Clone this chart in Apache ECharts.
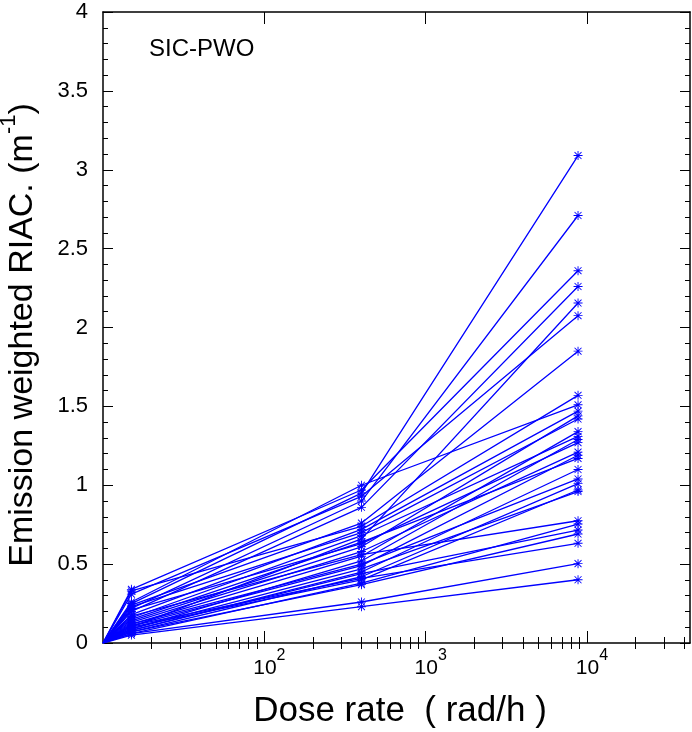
<!DOCTYPE html>
<html><head><meta charset="utf-8">
<script src="https://cdn.jsdelivr.net/npm/echarts@6/dist/echarts.min.js"></script>
<style>html,body{margin:0;padding:0;background:#fff}#c{width:692px;height:732px}</style>
</head><body><div id="c"></div>
<script>
// Dose rates (rad/h) at which RIAC was measured (first point = start, zero RIAC)
const doseRates = [10, 15, 400, 8800];
const riacStart = [0,0,0,0,0,0,0,0,0,0,0,0,0,0,0,0,0,0,0,0,0,0,0,0,0,0,0,0,0,0,0];
const riac15 = [0.25,0.22,0.34,0.20,0.31,0.26,0.10,0.24,0.33,0.18,0.14,0.23,0.12,0.16,0.09,0.21,0.13,0.11,0.15,0.08,0.12,0.07,0.10,0.09,0.17,0.06,0.08,0.07,0.11,0.06,0.05];
const riac400 = [0.95,0.90,0.97,0.86,0.93,1.00,0.66,0.76,0.74,0.72,0.61,0.70,0.55,0.68,0.52,0.63,0.58,0.49,0.64,0.45,0.50,0.42,0.40,0.47,0.56,0.38,0.44,0.37,0.41,0.26,0.23];
const riac8800 = [3.09,2.71,2.36,2.26,2.075,1.51,2.155,1.85,1.57,1.47,1.44,1.42,1.34,1.31,1.29,1.27,1.21,1.19,1.17,1.10,1.04,1.01,0.97,0.96,0.775,0.754,0.716,0.691,0.632,0.503,0.401];

const xMajorTicks = [100, 1000, 10000];
const xTickExponents = ['2', '3', '4'];
const xMinorTicks = [20,30,40,50,60,70,80,90,200,300,400,500,600,700,800,900,2000,3000,4000,5000,6000,7000,8000,9000,20000,30000,40000];
const yTickLabels = ['0','0.5','1','1.5','2','2.5','3','3.5','4'];

const FONT = "'Liberation Sans', Arial, Helvetica, sans-serif";
const BLUE = '#0000ff';
const ASTERISK = 'path://M9,0 L11,0 L11,20 L9,20 Z M0,9 L20,9 L20,11 L0,11 Z M1.6,3 L3,1.6 L18.4,17 L17,18.4 Z M17,1.6 L18.4,3 L3,18.4 L1.6,17 Z';

const chart = echarts.init(document.getElementById('c'), null, {renderer: 'canvas'});

const series = riac8800.map((_, i) => ({
  type: 'line',
  xAxisIndex: 0, yAxisIndex: 0,
  silent: true,
  symbol: ASTERISK,
  symbolSize: 9,
  lineStyle: {color: BLUE, width: 1.3},
  itemStyle: {color: BLUE, borderWidth: 0},
  data: [
    {value: [doseRates[0], riacStart[i]], symbol: 'none'},
    [doseRates[1], riac15[i]],
    [doseRates[2], riac400[i]],
    [doseRates[3], riac8800[i]]
  ]
}));

const axisLineStyle = {show: true, onZero: false, lineStyle: {color: '#000', width: 1.5}};
const xCommon = {type: 'log', logBase: 10, min: 10, max: 43500, splitLine: {show: false}, minorSplitLine: {show: false}};

const option = {
  animation: false,
  grid: {left: 103, right: 2, top: 12, bottom: 89, containLabel: false},
  xAxis: [
    Object.assign({}, xCommon, {
      position: 'bottom',
      axisLine: axisLineStyle,
      axisTick: {show: true, inside: true, length: 12, customValues: xMajorTicks, lineStyle: {color: '#000', width: 1}},
      axisLabel: {
        show: true, customValues: xMajorTicks, margin: 15, padding: [0, 0, 0, 10],
        formatter: v => {
          const k = xMajorTicks.indexOf(Math.round(v));
          return k < 0 ? '' : '{b|10}{s|' + xTickExponents[k] + '}';
        },
        rich: {
          b: {fontSize: 21, fontFamily: FONT, color: '#000', lineHeight: 21, verticalAlign: 'bottom'},
          s: {fontSize: 16, fontFamily: FONT, color: '#000', lineHeight: 16, padding: [0, 0, 15, 0], verticalAlign: 'bottom'}
        }
      }
    }),
    Object.assign({}, xCommon, {
      position: 'top',
      axisLine: axisLineStyle,
      axisTick: {show: true, inside: true, length: 12, customValues: xMajorTicks, lineStyle: {color: '#000', width: 1}},
      axisLabel: {show: false}
    }),
    Object.assign({}, xCommon, {
      position: 'bottom',
      axisLine: {show: false},
      axisTick: {show: true, inside: true, length: 6, customValues: xMinorTicks, lineStyle: {color: '#000', width: 1}},
      axisLabel: {show: false}
    }),
    Object.assign({}, xCommon, {
      position: 'top',
      axisLine: {show: false},
      axisTick: {show: true, inside: true, length: 6, customValues: xMinorTicks, lineStyle: {color: '#000', width: 1}},
      axisLabel: {show: false}
    })
  ],
  yAxis: [
    {
      type: 'value', min: 0, max: 4, interval: 0.5, position: 'left',
      axisLine: axisLineStyle,
      axisTick: {show: true, inside: true, length: 10, lineStyle: {color: '#000', width: 1}},
      minorTick: {show: true, splitNumber: 5, length: 5, lineStyle: {color: '#000', width: 1}},
      axisLabel: {fontSize: 22, fontFamily: FONT, color: '#000', margin: 15,
        formatter: v => yTickLabels[Math.round(v / 0.5)]},
      splitLine: {show: false}, minorSplitLine: {show: false}
    },
    {
      type: 'value', min: 0, max: 4, interval: 0.5, position: 'right',
      axisLine: axisLineStyle,
      axisTick: {show: true, inside: true, length: 10, lineStyle: {color: '#000', width: 1}},
      minorTick: {show: true, splitNumber: 5, length: 5, lineStyle: {color: '#000', width: 1}},
      axisLabel: {show: false},
      splitLine: {show: false}, minorSplitLine: {show: false}
    }
  ],
  graphic: [
    {type: 'text', left: 149, top: 37, silent: true,
      style: {text: 'SIC-PWO', fontSize: 24, fontFamily: FONT, fill: '#000'}},
    {type: 'text', x: 23, y: 335, rotation: Math.PI / 2, silent: true,
      style: {
        text: '{a|Emission weighted RIAC. (m}{s|-1}{a|)}',
        align: 'center', verticalAlign: 'middle',
        rich: {
          a: {fontSize: 34, fontFamily: FONT, fill: '#000', lineHeight: 34, verticalAlign: 'bottom'},
          s: {fontSize: 22, fontFamily: FONT, fill: '#000', lineHeight: 22, padding: [0, 0, 20, 0], verticalAlign: 'bottom'}
        }
      }},
    {type: 'text', x: 400, y: 711, silent: true,
      style: {text: 'Dose rate  ( rad/h )', fontSize: 35, fontFamily: FONT, fill: '#000', align: 'center', verticalAlign: 'middle'}}
  ],
  series: series
};
chart.setOption(option);
</script>
</body></html>
